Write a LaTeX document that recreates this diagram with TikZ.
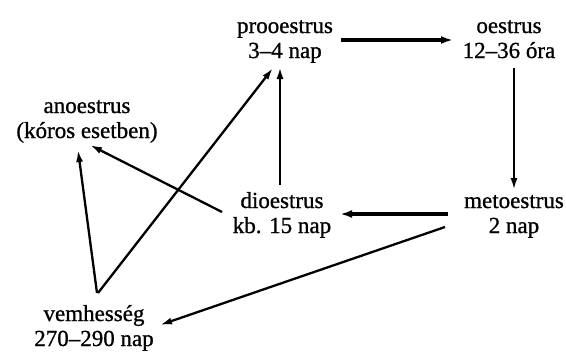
\documentclass[tikz,border=0pt]{standalone}
\usepackage{fontspec}
\setmainfont{Liberation Serif}[FakeBold=0.9]
\usetikzlibrary{arrows.meta}
\begin{document}
\begin{tikzpicture}[x=1pt,y=-1pt,
  lbl/.style={anchor=base,align=center,inner sep=0pt,font=\fontsize{23}{25}\selectfont},
  conn/.style={line width=2.3pt,-{Latex[length=12pt,width=7pt]}},
  thickconn/.style={line width=3.1pt,-{Latex[length=12pt,width=8pt]}}]
\useasboundingbox[fill=white] (0,0) rectangle (566,362);
\node[lbl] (p) at (285,58) {prooestrus\\3–4 nap};
\node[lbl] (o) at (509,58) {oestrus\\12–36 óra};
\node[lbl] (a) at (87,138) {anoestrus\\(kóros esetben)};
\node[lbl] (d) at (282,233) {dioestrus\\kb. 15 nap};
\node[lbl] (m) at (514,233) {metoestrus\\2 nap};
\node[lbl] (v) at (94,346) {vemhesség\\270–290 nap};
\draw[thickconn] ([shift={(56,-18)}]p.base) -- ([shift={(-56,-18)}]o.base);
\draw[conn] ([shift={(5,10)}]o.base) -- ([shift={(0,-43)}]m.base);
\draw[thickconn] ([shift={(-66,-19)}]m.base) -- ([shift={(58,-19)}]d.base);
\draw[conn] ([shift={(-2,-48)}]d.base) -- ([shift={(-5,9)}]p.base);
\draw[conn] ([shift={(-60,-21)}]d.base) -- ([shift={(3,7)}]a.base);
\draw[conn] ([shift={(-69,-6)}]m.base) -- ([shift={(66,-21)}]v.base);
\draw[conn] ([shift={(3,-53)}]v.base) -- ([shift={(-9,12)}]a.base);
\draw[conn] ([shift={(4,-53)}]v.base) -- ([shift={(-12,10)}]p.base);
\end{tikzpicture}
\end{document}
